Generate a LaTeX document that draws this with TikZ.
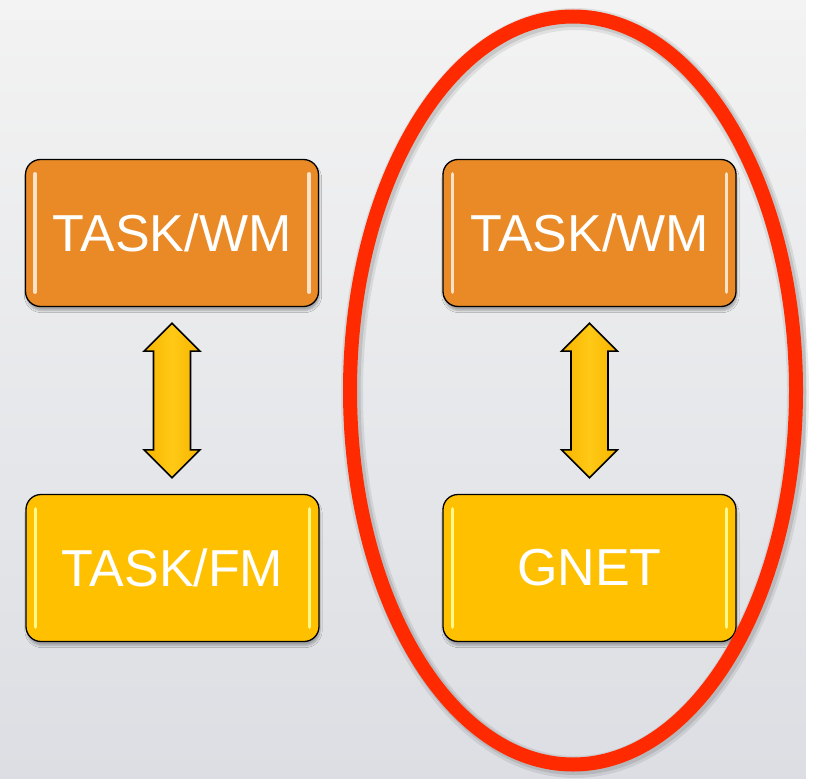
\documentclass[tikz,border=0pt]{standalone}
\usepackage{fontspec}
\setmainfont{Liberation Sans}
\usetikzlibrary{calc,shapes.geometric,shadows.blur}

\definecolor{bgtop}{HTML}{F3F3F3}
\definecolor{bgmid}{HTML}{F0F0F1}
\definecolor{bgbot}{HTML}{DCDEE3}
\definecolor{boxorange}{HTML}{E98A26}
\definecolor{boxyellow}{HTML}{FFC000}
\definecolor{arrowedge}{HTML}{F7B400}
\definecolor{arrowcore}{HTML}{FFC915}
\definecolor{ringred}{HTML}{FF2A00}

\tikzset{
  box/.style={rectangle, rounded corners=15pt, draw=black, line width=1.3pt,
    minimum width=293pt, minimum height=147pt, text=white,
    font=\fontsize{52}{58}\selectfont,
    blur shadow={shadow xshift=1pt, shadow yshift=-4pt, shadow opacity=30, shadow blur steps=6}},
  wmbox/.style={box, fill=boxorange},
  fmbox/.style={box, fill=boxyellow},
  glintorange/.style={draw=white!75!boxorange, line width=3.5pt, line cap=round},
  glintyellow/.style={draw=white!55!yellow, line width=3.5pt, line cap=round},
  linkstyle/.style={draw=black, line width=1.6pt, line join=miter,
    left color=arrowedge, right color=arrowedge, middle color=arrowcore},
  ring/.style={ellipse, draw=ringred, line width=14pt, inner sep=0pt,
    minimum width=446pt, minimum height=748pt},
}

% vertical double-headed block arrow between two stacked boxes
\newcommand\linkarrow[2]{%
  \path[linkstyle] let \p1=($(#1.south)+(0,16)$), \p2=($(#2.north)+(0,-16)$) in
    (\x1,\y1) -- (\x1+28pt,\y1-28pt) -- (\x1+18.5pt,\y1-28pt)
    -- (\x1+18.5pt,\y2+28pt) -- (\x1+28pt,\y2+28pt) -- (\x1,\y2)
    -- (\x1-28pt,\y2+28pt) -- (\x1-18.5pt,\y2+28pt)
    -- (\x1-18.5pt,\y1-28pt) -- (\x1-28pt,\y1-28pt) -- cycle;}

% light reflections along the inner left and right edges of a box
\newcommand\boxglint[2]{%
  \draw[#2] ($(#1.north west)+(10,15)$) -- ($(#1.south west)+(10,-15)$);
  \draw[#2] ($(#1.north east)+(-10,15)$) -- ($(#1.south east)+(-10,-15)$);}

\begin{document}
\begin{tikzpicture}[x=1pt,y=-1pt]
\useasboundingbox (0,0) rectangle (818,778);

% backdrop
\shade[top color=bgtop, middle color=bgmid, bottom color=bgbot] (0,0) rectangle (806,778);
\fill[white] (806,0) rectangle (818,778);

% boxes
\node[wmbox] (wmL) at (172,233) {TASK/WM};
\node[fmbox] (fmL) at (172.5,568) {TASK/FM};
\node[wmbox] (wmR) at (589.5,233) {TASK/WM};
\node[fmbox] (gnet) at (589.5,568) {GNET};

\boxglint{wmL}{glintorange}
\boxglint{wmR}{glintorange}
\boxglint{fmL}{glintyellow}
\boxglint{gnet}{glintyellow}

% connectors
\linkarrow{wmL}{fmL}
\linkarrow{wmR}{gnet}

% highlight ring with soft shadow
\draw[black, opacity=0.08, line width=22pt] (575,393) ellipse [x radius=223, y radius=374];
\draw[black, opacity=0.10, line width=17pt] (575,392.5) ellipse [x radius=223, y radius=374];
\node[ring] (group) at (573,390.5) {};
\end{tikzpicture}
\end{document}
